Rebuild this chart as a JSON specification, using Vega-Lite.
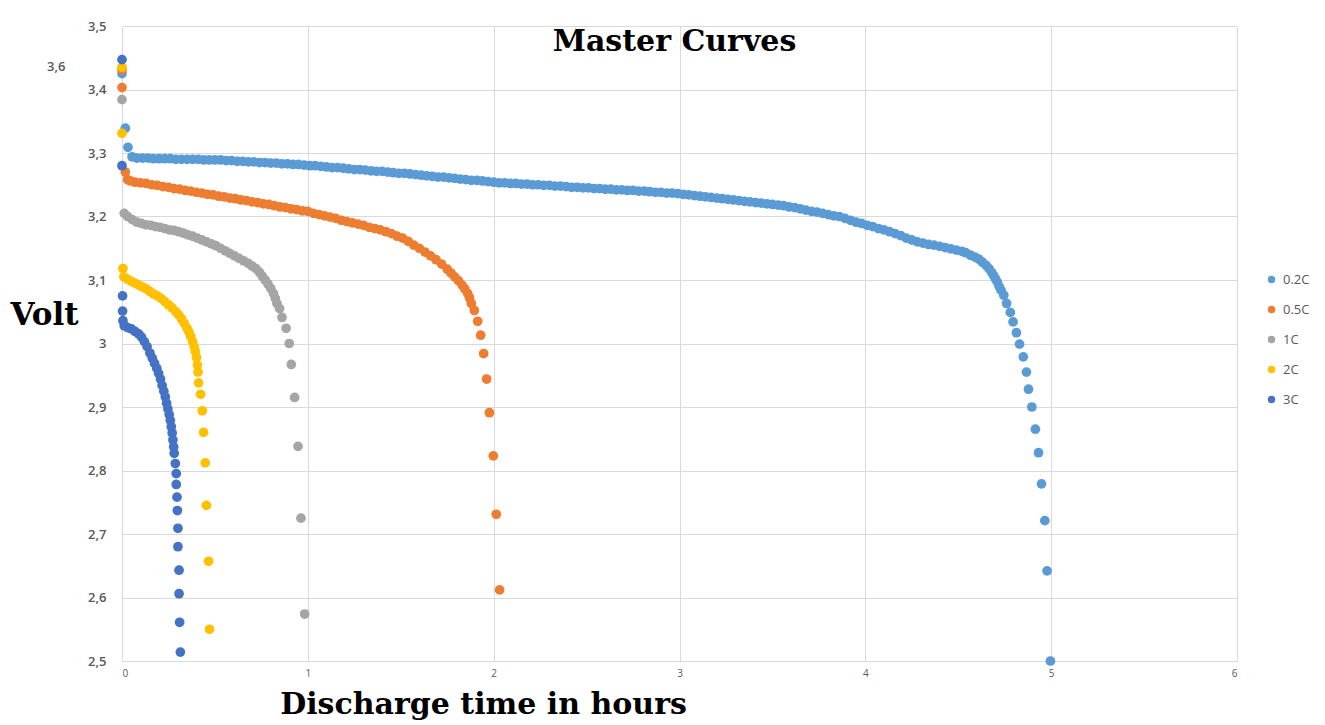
{
  "$schema": "https://vega.github.io/schema/vega-lite/v6.json",
  "autosize": "none",
  "width": 1115,
  "height": 635,
  "padding": {"left": 122, "top": 26, "right": 88, "bottom": 64},
  "background": "white",
  "view": {"stroke": null},
  "title": {"text": "Master Curves", "font": "DejaVu Serif", "fontSize": 30, "fontWeight": "bold", "color": "#000000", "anchor": "middle", "frame": "group", "dx": -5, "offset": -61, "baseline": "alphabetic"},
  "datasets": {
    "curves": [
      {"rate":"0.2C","h":0,"v":3.425},{"rate":"0.2C","h":0.018,"v":3.339},{"rate":"0.2C","h":0.032,"v":3.309},{"rate":"0.2C","h":0.054,"v":3.294},
      {"rate":"0.2C","h":0.08,"v":3.292},{"rate":"0.2C","h":0.11,"v":3.292},{"rate":"0.2C","h":0.14,"v":3.292},{"rate":"0.2C","h":0.17,"v":3.291},{"rate":"0.2C","h":0.2,"v":3.291},{"rate":"0.2C","h":0.23,"v":3.291},{"rate":"0.2C","h":0.26,"v":3.291},{"rate":"0.2C","h":0.29,"v":3.29},{"rate":"0.2C","h":0.32,"v":3.29},{"rate":"0.2C","h":0.35,"v":3.29},{"rate":"0.2C","h":0.38,"v":3.29},{"rate":"0.2C","h":0.41,"v":3.29},{"rate":"0.2C","h":0.44,"v":3.289},{"rate":"0.2C","h":0.47,"v":3.289},{"rate":"0.2C","h":0.5,"v":3.289},
      {"rate":"0.2C","h":0.53,"v":3.289},{"rate":"0.2C","h":0.56,"v":3.288},{"rate":"0.2C","h":0.59,"v":3.288},{"rate":"0.2C","h":0.62,"v":3.287},{"rate":"0.2C","h":0.65,"v":3.287},{"rate":"0.2C","h":0.68,"v":3.286},{"rate":"0.2C","h":0.71,"v":3.286},{"rate":"0.2C","h":0.74,"v":3.285},{"rate":"0.2C","h":0.77,"v":3.285},{"rate":"0.2C","h":0.8,"v":3.284},{"rate":"0.2C","h":0.83,"v":3.284},{"rate":"0.2C","h":0.86,"v":3.283},{"rate":"0.2C","h":0.89,"v":3.283},{"rate":"0.2C","h":0.92,"v":3.282},{"rate":"0.2C","h":0.95,"v":3.282},
      {"rate":"0.2C","h":0.98,"v":3.281},{"rate":"0.2C","h":1.01,"v":3.28},{"rate":"0.2C","h":1.04,"v":3.28},{"rate":"0.2C","h":1.07,"v":3.279},{"rate":"0.2C","h":1.1,"v":3.278},{"rate":"0.2C","h":1.13,"v":3.277},{"rate":"0.2C","h":1.16,"v":3.277},{"rate":"0.2C","h":1.19,"v":3.276},{"rate":"0.2C","h":1.22,"v":3.275},{"rate":"0.2C","h":1.25,"v":3.274},{"rate":"0.2C","h":1.28,"v":3.274},{"rate":"0.2C","h":1.31,"v":3.273},{"rate":"0.2C","h":1.34,"v":3.272},{"rate":"0.2C","h":1.37,"v":3.271},{"rate":"0.2C","h":1.4,"v":3.271},{"rate":"0.2C","h":1.43,"v":3.27},{"rate":"0.2C","h":1.46,"v":3.269},{"rate":"0.2C","h":1.49,"v":3.268},
      {"rate":"0.2C","h":1.52,"v":3.268},{"rate":"0.2C","h":1.55,"v":3.267},{"rate":"0.2C","h":1.58,"v":3.266},{"rate":"0.2C","h":1.61,"v":3.265},{"rate":"0.2C","h":1.64,"v":3.264},{"rate":"0.2C","h":1.67,"v":3.263},{"rate":"0.2C","h":1.7,"v":3.262},{"rate":"0.2C","h":1.73,"v":3.262},{"rate":"0.2C","h":1.76,"v":3.261},{"rate":"0.2C","h":1.79,"v":3.26},{"rate":"0.2C","h":1.82,"v":3.259},{"rate":"0.2C","h":1.85,"v":3.258},{"rate":"0.2C","h":1.88,"v":3.257},{"rate":"0.2C","h":1.91,"v":3.257},{"rate":"0.2C","h":1.94,"v":3.256},{"rate":"0.2C","h":1.97,"v":3.255},{"rate":"0.2C","h":2.0,"v":3.254},
      {"rate":"0.2C","h":2.03,"v":3.253},{"rate":"0.2C","h":2.06,"v":3.253},{"rate":"0.2C","h":2.09,"v":3.252},{"rate":"0.2C","h":2.12,"v":3.252},{"rate":"0.2C","h":2.15,"v":3.251},{"rate":"0.2C","h":2.18,"v":3.251},{"rate":"0.2C","h":2.21,"v":3.25},{"rate":"0.2C","h":2.24,"v":3.25},{"rate":"0.2C","h":2.27,"v":3.249},{"rate":"0.2C","h":2.3,"v":3.249},{"rate":"0.2C","h":2.33,"v":3.248},{"rate":"0.2C","h":2.36,"v":3.248},{"rate":"0.2C","h":2.39,"v":3.247},{"rate":"0.2C","h":2.42,"v":3.246},{"rate":"0.2C","h":2.45,"v":3.246},{"rate":"0.2C","h":2.48,"v":3.245},
      {"rate":"0.2C","h":2.51,"v":3.245},{"rate":"0.2C","h":2.54,"v":3.244},{"rate":"0.2C","h":2.57,"v":3.244},{"rate":"0.2C","h":2.6,"v":3.243},{"rate":"0.2C","h":2.63,"v":3.243},{"rate":"0.2C","h":2.66,"v":3.242},{"rate":"0.2C","h":2.69,"v":3.242},{"rate":"0.2C","h":2.72,"v":3.241},{"rate":"0.2C","h":2.75,"v":3.241},{"rate":"0.2C","h":2.78,"v":3.24},
      {"rate":"0.2C","h":2.81,"v":3.24},{"rate":"0.2C","h":2.84,"v":3.239},{"rate":"0.2C","h":2.87,"v":3.238},{"rate":"0.2C","h":2.9,"v":3.238},{"rate":"0.2C","h":2.93,"v":3.237},{"rate":"0.2C","h":2.96,"v":3.237},{"rate":"0.2C","h":2.99,"v":3.236},
      {"rate":"0.2C","h":3.02,"v":3.235},{"rate":"0.2C","h":3.05,"v":3.234},{"rate":"0.2C","h":3.08,"v":3.233},{"rate":"0.2C","h":3.11,"v":3.232},{"rate":"0.2C","h":3.14,"v":3.231},{"rate":"0.2C","h":3.17,"v":3.23},{"rate":"0.2C","h":3.2,"v":3.229},{"rate":"0.2C","h":3.23,"v":3.228},{"rate":"0.2C","h":3.26,"v":3.227},{"rate":"0.2C","h":3.29,"v":3.226},{"rate":"0.2C","h":3.32,"v":3.225},
      {"rate":"0.2C","h":3.35,"v":3.224},{"rate":"0.2C","h":3.38,"v":3.223},{"rate":"0.2C","h":3.41,"v":3.222},{"rate":"0.2C","h":3.44,"v":3.221},{"rate":"0.2C","h":3.47,"v":3.22},{"rate":"0.2C","h":3.5,"v":3.219},{"rate":"0.2C","h":3.53,"v":3.218},{"rate":"0.2C","h":3.56,"v":3.217},{"rate":"0.2C","h":3.59,"v":3.215},
      {"rate":"0.2C","h":3.62,"v":3.214},{"rate":"0.2C","h":3.65,"v":3.212},{"rate":"0.2C","h":3.68,"v":3.21},{"rate":"0.2C","h":3.71,"v":3.208},{"rate":"0.2C","h":3.74,"v":3.207},{"rate":"0.2C","h":3.77,"v":3.205},{"rate":"0.2C","h":3.8,"v":3.203},{"rate":"0.2C","h":3.83,"v":3.201},{"rate":"0.2C","h":3.86,"v":3.2},
      {"rate":"0.2C","h":3.89,"v":3.197},{"rate":"0.2C","h":3.92,"v":3.194},{"rate":"0.2C","h":3.95,"v":3.191},{"rate":"0.2C","h":3.98,"v":3.189},{"rate":"0.2C","h":4.01,"v":3.186},{"rate":"0.2C","h":4.04,"v":3.184},{"rate":"0.2C","h":4.07,"v":3.181},{"rate":"0.2C","h":4.1,"v":3.179},{"rate":"0.2C","h":4.13,"v":3.176},
      {"rate":"0.2C","h":4.16,"v":3.173},{"rate":"0.2C","h":4.19,"v":3.17},{"rate":"0.2C","h":4.22,"v":3.166},{"rate":"0.2C","h":4.25,"v":3.163},{"rate":"0.2C","h":4.28,"v":3.16},{"rate":"0.2C","h":4.31,"v":3.158},{"rate":"0.2C","h":4.34,"v":3.156},{"rate":"0.2C","h":4.37,"v":3.155},{"rate":"0.2C","h":4.4,"v":3.153},{"rate":"0.2C","h":4.43,"v":3.151},{"rate":"0.2C","h":4.46,"v":3.149},{"rate":"0.2C","h":4.49,"v":3.147},
      {"rate":"0.2C","h":4.52,"v":3.145},{"rate":"0.2C","h":4.54,"v":3.143},{"rate":"0.2C","h":4.566,"v":3.139},{"rate":"0.2C","h":4.59,"v":3.136},{"rate":"0.2C","h":4.61,"v":3.133},{"rate":"0.2C","h":4.63,"v":3.128},{"rate":"0.2C","h":4.65,"v":3.123},{"rate":"0.2C","h":4.665,"v":3.118},{"rate":"0.2C","h":4.68,"v":3.112},{"rate":"0.2C","h":4.69,"v":3.107},{"rate":"0.2C","h":4.7,"v":3.102},{"rate":"0.2C","h":4.71,"v":3.097},{"rate":"0.2C","h":4.72,"v":3.09},{"rate":"0.2C","h":4.73,"v":3.084},
      {"rate":"0.2C","h":4.745,"v":3.076},{"rate":"0.2C","h":4.76,"v":3.063},{"rate":"0.2C","h":4.78,"v":3.049},{"rate":"0.2C","h":4.795,"v":3.034},{"rate":"0.2C","h":4.813,"v":3.017},{"rate":"0.2C","h":4.83,"v":2.999},{"rate":"0.2C","h":4.85,"v":2.979},{"rate":"0.2C","h":4.867,"v":2.955},{"rate":"0.2C","h":4.878,"v":2.928},{"rate":"0.2C","h":4.896,"v":2.9},{"rate":"0.2C","h":4.915,"v":2.865},{"rate":"0.2C","h":4.932,"v":2.828},{"rate":"0.2C","h":4.948,"v":2.779},{"rate":"0.2C","h":4.966,"v":2.721},{"rate":"0.2C","h":4.978,"v":2.642},{"rate":"0.2C","h":4.996,"v":2.5},

      {"rate":"0.5C","h":0,"v":3.431},{"rate":"0.5C","h":0,"v":3.403},{"rate":"0.5C","h":0.018,"v":3.27},{"rate":"0.5C","h":0.03,"v":3.258},{"rate":"0.5C","h":0.045,"v":3.256},
      {"rate":"0.5C","h":0.07,"v":3.254},{"rate":"0.5C","h":0.1,"v":3.253},{"rate":"0.5C","h":0.13,"v":3.252},{"rate":"0.5C","h":0.16,"v":3.25},{"rate":"0.5C","h":0.19,"v":3.249},{"rate":"0.5C","h":0.22,"v":3.247},{"rate":"0.5C","h":0.25,"v":3.246},{"rate":"0.5C","h":0.28,"v":3.244},{"rate":"0.5C","h":0.31,"v":3.243},{"rate":"0.5C","h":0.34,"v":3.241},
      {"rate":"0.5C","h":0.37,"v":3.24},{"rate":"0.5C","h":0.4,"v":3.238},{"rate":"0.5C","h":0.43,"v":3.237},{"rate":"0.5C","h":0.46,"v":3.235},{"rate":"0.5C","h":0.49,"v":3.234},{"rate":"0.5C","h":0.52,"v":3.232},{"rate":"0.5C","h":0.55,"v":3.231},{"rate":"0.5C","h":0.58,"v":3.229},{"rate":"0.5C","h":0.61,"v":3.228},{"rate":"0.5C","h":0.64,"v":3.226},{"rate":"0.5C","h":0.67,"v":3.225},{"rate":"0.5C","h":0.7,"v":3.223},
      {"rate":"0.5C","h":0.73,"v":3.222},{"rate":"0.5C","h":0.76,"v":3.22},{"rate":"0.5C","h":0.79,"v":3.219},{"rate":"0.5C","h":0.82,"v":3.217},{"rate":"0.5C","h":0.85,"v":3.215},{"rate":"0.5C","h":0.88,"v":3.214},{"rate":"0.5C","h":0.91,"v":3.212},{"rate":"0.5C","h":0.94,"v":3.211},{"rate":"0.5C","h":0.97,"v":3.209},{"rate":"0.5C","h":1.0,"v":3.208},
      {"rate":"0.5C","h":1.03,"v":3.205},{"rate":"0.5C","h":1.06,"v":3.203},{"rate":"0.5C","h":1.09,"v":3.201},{"rate":"0.5C","h":1.12,"v":3.199},{"rate":"0.5C","h":1.15,"v":3.197},{"rate":"0.5C","h":1.18,"v":3.194},{"rate":"0.5C","h":1.21,"v":3.192},{"rate":"0.5C","h":1.24,"v":3.19},{"rate":"0.5C","h":1.27,"v":3.188},{"rate":"0.5C","h":1.3,"v":3.186},{"rate":"0.5C","h":1.33,"v":3.183},
      {"rate":"0.5C","h":1.36,"v":3.181},{"rate":"0.5C","h":1.39,"v":3.179},{"rate":"0.5C","h":1.42,"v":3.176},{"rate":"0.5C","h":1.45,"v":3.173},{"rate":"0.5C","h":1.48,"v":3.169},{"rate":"0.5C","h":1.51,"v":3.166},{"rate":"0.5C","h":1.54,"v":3.161},{"rate":"0.5C","h":1.57,"v":3.155},{"rate":"0.5C","h":1.6,"v":3.15},{"rate":"0.5C","h":1.63,"v":3.144},{"rate":"0.5C","h":1.66,"v":3.138},{"rate":"0.5C","h":1.69,"v":3.132},
      {"rate":"0.5C","h":1.72,"v":3.125},{"rate":"0.5C","h":1.75,"v":3.117},{"rate":"0.5C","h":1.77,"v":3.111},{"rate":"0.5C","h":1.79,"v":3.105},{"rate":"0.5C","h":1.81,"v":3.099},{"rate":"0.5C","h":1.83,"v":3.092},{"rate":"0.5C","h":1.845,"v":3.086},{"rate":"0.5C","h":1.86,"v":3.079},{"rate":"0.5C","h":1.87,"v":3.072},{"rate":"0.5C","h":1.88,"v":3.063},
      {"rate":"0.5C","h":1.896,"v":3.052},{"rate":"0.5C","h":1.914,"v":3.035},{"rate":"0.5C","h":1.93,"v":3.013},{"rate":"0.5C","h":1.946,"v":2.984},{"rate":"0.5C","h":1.962,"v":2.944},{"rate":"0.5C","h":1.977,"v":2.891},{"rate":"0.5C","h":1.998,"v":2.823},{"rate":"0.5C","h":2.014,"v":2.731},{"rate":"0.5C","h":2.032,"v":2.612},

      {"rate":"1C","h":0,"v":3.384},{"rate":"1C","h":0.012,"v":3.205},{"rate":"1C","h":0.03,"v":3.2},{"rate":"1C","h":0.055,"v":3.195},{"rate":"1C","h":0.08,"v":3.191},{"rate":"1C","h":0.105,"v":3.189},{"rate":"1C","h":0.13,"v":3.187},{"rate":"1C","h":0.155,"v":3.186},{"rate":"1C","h":0.18,"v":3.184},{"rate":"1C","h":0.205,"v":3.183},{"rate":"1C","h":0.23,"v":3.181},{"rate":"1C","h":0.255,"v":3.179},{"rate":"1C","h":0.28,"v":3.178},{"rate":"1C","h":0.305,"v":3.176},{"rate":"1C","h":0.33,"v":3.174},{"rate":"1C","h":0.355,"v":3.171},{"rate":"1C","h":0.38,"v":3.169},{"rate":"1C","h":0.405,"v":3.166},{"rate":"1C","h":0.43,"v":3.163},{"rate":"1C","h":0.455,"v":3.16},{"rate":"1C","h":0.48,"v":3.157},{"rate":"1C","h":0.505,"v":3.154},{"rate":"1C","h":0.53,"v":3.15},{"rate":"1C","h":0.555,"v":3.146},{"rate":"1C","h":0.58,"v":3.142},{"rate":"1C","h":0.605,"v":3.138},{"rate":"1C","h":0.63,"v":3.134},{"rate":"1C","h":0.655,"v":3.13},{"rate":"1C","h":0.68,"v":3.126},{"rate":"1C","h":0.7,"v":3.122},{"rate":"1C","h":0.72,"v":3.118},{"rate":"1C","h":0.74,"v":3.112},{"rate":"1C","h":0.755,"v":3.106},{"rate":"1C","h":0.77,"v":3.1},{"rate":"1C","h":0.785,"v":3.094},{"rate":"1C","h":0.8,"v":3.087},{"rate":"1C","h":0.815,"v":3.079},{"rate":"1C","h":0.825,"v":3.071},{"rate":"1C","h":0.834,"v":3.063},
      {"rate":"1C","h":0.848,"v":3.055},{"rate":"1C","h":0.861,"v":3.041},{"rate":"1C","h":0.883,"v":3.024},{"rate":"1C","h":0.9,"v":3.0},{"rate":"1C","h":0.911,"v":2.967},{"rate":"1C","h":0.929,"v":2.915},{"rate":"1C","h":0.947,"v":2.838},{"rate":"1C","h":0.963,"v":2.725},{"rate":"1C","h":0.983,"v":2.574},

      {"rate":"2C","h":0,"v":3.435},{"rate":"2C","h":0,"v":3.331},{"rate":"2C","h":0.005,"v":3.118},{"rate":"2C","h":0.01,"v":3.105},{"rate":"2C","h":0.03,"v":3.101},{"rate":"2C","h":0.05,"v":3.098},{"rate":"2C","h":0.07,"v":3.095},{"rate":"2C","h":0.09,"v":3.092},{"rate":"2C","h":0.11,"v":3.089},{"rate":"2C","h":0.13,"v":3.086},{"rate":"2C","h":0.15,"v":3.082},{"rate":"2C","h":0.17,"v":3.078},{"rate":"2C","h":0.19,"v":3.075},{"rate":"2C","h":0.21,"v":3.071},{"rate":"2C","h":0.23,"v":3.066},{"rate":"2C","h":0.25,"v":3.061},{"rate":"2C","h":0.27,"v":3.056},{"rate":"2C","h":0.29,"v":3.05},{"rate":"2C","h":0.305,"v":3.045},{"rate":"2C","h":0.32,"v":3.039},{"rate":"2C","h":0.335,"v":3.032},{"rate":"2C","h":0.35,"v":3.024},{"rate":"2C","h":0.36,"v":3.018},{"rate":"2C","h":0.37,"v":3.011},{"rate":"2C","h":0.38,"v":3.003},{"rate":"2C","h":0.388,"v":2.995},{"rate":"2C","h":0.395,"v":2.987},{"rate":"2C","h":0.401,"v":2.978},{"rate":"2C","h":0.406,"v":2.966},{"rate":"2C","h":0.409,"v":2.955},
      {"rate":"2C","h":0.412,"v":2.938},{"rate":"2C","h":0.423,"v":2.92},{"rate":"2C","h":0.432,"v":2.894},{"rate":"2C","h":0.439,"v":2.86},{"rate":"2C","h":0.448,"v":2.812},{"rate":"2C","h":0.454,"v":2.745},{"rate":"2C","h":0.466,"v":2.657},{"rate":"2C","h":0.471,"v":2.55},

      {"rate":"3C","h":0,"v":3.447},{"rate":"3C","h":0,"v":3.28},{"rate":"3C","h":0.003,"v":3.075},{"rate":"3C","h":0.003,"v":3.051},{"rate":"3C","h":0.005,"v":3.036},{"rate":"3C","h":0.012,"v":3.028},{"rate":"3C","h":0.03,"v":3.025},{"rate":"3C","h":0.05,"v":3.023},{"rate":"3C","h":0.07,"v":3.019},{"rate":"3C","h":0.09,"v":3.015},{"rate":"3C","h":0.105,"v":3.01},{"rate":"3C","h":0.12,"v":3.003},{"rate":"3C","h":0.135,"v":2.995},{"rate":"3C","h":0.15,"v":2.985},{"rate":"3C","h":0.163,"v":2.977},{"rate":"3C","h":0.175,"v":2.969},{"rate":"3C","h":0.187,"v":2.961},{"rate":"3C","h":0.197,"v":2.953},{"rate":"3C","h":0.207,"v":2.944},{"rate":"3C","h":0.216,"v":2.934},{"rate":"3C","h":0.225,"v":2.925},{"rate":"3C","h":0.233,"v":2.916},{"rate":"3C","h":0.24,"v":2.906},{"rate":"3C","h":0.247,"v":2.897},{"rate":"3C","h":0.254,"v":2.888},{"rate":"3C","h":0.26,"v":2.879},{"rate":"3C","h":0.265,"v":2.869},{"rate":"3C","h":0.27,"v":2.859},{"rate":"3C","h":0.274,"v":2.848},{"rate":"3C","h":0.278,"v":2.837},{"rate":"3C","h":0.281,"v":2.827},
      {"rate":"3C","h":0.287,"v":2.811},{"rate":"3C","h":0.292,"v":2.795},{"rate":"3C","h":0.292,"v":2.778},{"rate":"3C","h":0.296,"v":2.758},{"rate":"3C","h":0.298,"v":2.737},{"rate":"3C","h":0.301,"v":2.709},{"rate":"3C","h":0.301,"v":2.68},{"rate":"3C","h":0.307,"v":2.643},{"rate":"3C","h":0.307,"v":2.606},{"rate":"3C","h":0.31,"v":2.561},{"rate":"3C","h":0.314,"v":2.514}
    ],
    "stray": [{"label": "3,6", "h": -0.354, "v": 3.435}]
  },
  "layer": [
    {
      "data": {"name": "curves"},
      "mark": {"type": "point", "shape": "circle", "filled": true, "opacity": 1, "size": 95, "strokeWidth": 0},
      "encoding": {
        "x": {"field": "h", "type": "quantitative", "scale": {"domain": [0, 6], "nice": false, "zero": false},
          "axis": {"title": "Discharge time in hours", "values": [0,1,2,3,4,5,6], "format": "d", "grid": true, "gridColor": "#d9d9d9", "domain": true, "domainColor": "#d9d9d9", "ticks": false,
            "labelFont": "Open Sans", "labelFontSize": 10, "labelColor": "#595959", "labelPadding": 7,
            "titleFont": "DejaVu Serif", "titleFontWeight": "bold", "titleFontSize": 30, "titleColor": "#000000", "titleX": 361, "titleY": 52, "titleAlign": "center", "titleBaseline": "alphabetic"}},
        "y": {"field": "v", "type": "quantitative", "scale": {"domain": [2.5, 3.5], "nice": false, "zero": false},
          "axis": {"title": "Volt", "values": [2.5,2.6,2.7,2.8,2.9,3.0,3.1,3.2,3.3,3.4,3.5], "labelExpr": "replace(format(datum.value, '.1~f'), '.', ',')", "grid": true, "gridColor": "#d9d9d9", "domain": false, "ticks": false,
            "labelFont": "Open Sans", "labelFontSize": 13, "labelFontWeight": 600, "labelColor": "#595959", "labelPadding": 16,
            "titleFont": "DejaVu Serif", "titleFontWeight": "bold", "titleFontSize": 31, "titleColor": "#000000", "titleAngle": 0, "titleX": -112, "titleY": 289, "titleAlign": "left", "titleBaseline": "middle"}},
        "color": {"field": "rate", "type": "nominal", "scale": {"domain": ["0.2C","0.5C","1C","2C","3C"], "range": ["#5B9BD5","#ED7D31","#A5A5A5","#FFC000","#4472C4"]},
          "legend": {"title": null, "orient": "none", "legendX": 1143, "legendY": 247, "padding": 0, "symbolType": "circle", "symbolSize": 55, "labelFont": "Open Sans", "labelFontSize": 13, "labelColor": "#595959", "labelOffset": 5, "rowPadding": 16}}
      }
    },
    {
      "data": {"name": "stray"},
      "mark": {"type": "text", "font": "Open Sans", "fontSize": 13, "fontWeight": 600, "color": "#595959", "align": "center", "baseline": "middle", "clip": false},
      "encoding": {
        "x": {"field": "h", "type": "quantitative"},
        "y": {"field": "v", "type": "quantitative"},
        "text": {"field": "label"}
      }
    }
  ]
}
